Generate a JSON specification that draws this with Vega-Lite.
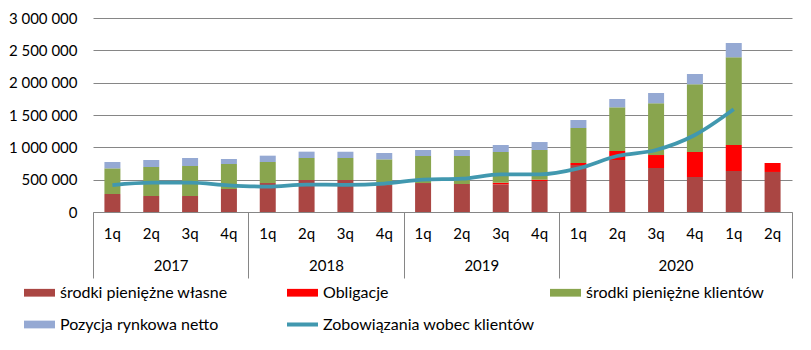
{
  "$schema": "https://vega.github.io/schema/vega-lite/v6.json",
  "width": 699,
  "height": 194,
  "autosize": "none",
  "padding": {"left": 93, "top": 18, "right": 19, "bottom": 138},
  "background": "white",
  "config": {
    "locale": {"number": {"decimal": ",", "thousands": " ", "grouping": [3], "currency": ["", " zł"]}},
    "font": "Lato",
    "view": {"stroke": null},
    "axis": {"labelFont": "Lato", "labelFontSize": 15, "labelColor": "#000000", "title": null}
  },
  "data": {
    "values": [
      {"period": "2017 1q", "series": "środki pieniężne własne", "value": 278000},
      {"period": "2017 1q", "series": "środki pieniężne klientów", "value": 397000},
      {"period": "2017 1q", "series": "Pozycja rynkowa netto", "value": 98000},
      {"period": "2017 1q", "series": "Zobowiązania wobec klientów", "value": 417000},
      {"period": "2017 2q", "series": "środki pieniężne własne", "value": 247000},
      {"period": "2017 2q", "series": "środki pieniężne klientów", "value": 449000},
      {"period": "2017 2q", "series": "Pozycja rynkowa netto", "value": 108000},
      {"period": "2017 2q", "series": "Zobowiązania wobec klientów", "value": 453000},
      {"period": "2017 3q", "series": "środki pieniężne własne", "value": 247000},
      {"period": "2017 3q", "series": "środki pieniężne klientów", "value": 464000},
      {"period": "2017 3q", "series": "Pozycja rynkowa netto", "value": 124000},
      {"period": "2017 3q", "series": "Zobowiązania wobec klientów", "value": 455000},
      {"period": "2017 4q", "series": "środki pieniężne własne", "value": 356000},
      {"period": "2017 4q", "series": "środki pieniężne klientów", "value": 386000},
      {"period": "2017 4q", "series": "Pozycja rynkowa netto", "value": 78000},
      {"period": "2017 4q", "series": "Zobowiązania wobec klientów", "value": 412000},
      {"period": "2018 1q", "series": "środki pieniężne własne", "value": 448000},
      {"period": "2018 1q", "series": "środki pieniężne klientów", "value": 325000},
      {"period": "2018 1q", "series": "Pozycja rynkowa netto", "value": 98000},
      {"period": "2018 1q", "series": "Zobowiązania wobec klientów", "value": 392000},
      {"period": "2018 2q", "series": "środki pieniężne własne", "value": 495000},
      {"period": "2018 2q", "series": "środki pieniężne klientów", "value": 340000},
      {"period": "2018 2q", "series": "Pozycja rynkowa netto", "value": 98000},
      {"period": "2018 2q", "series": "Zobowiązania wobec klientów", "value": 425000},
      {"period": "2018 3q", "series": "środki pieniężne własne", "value": 495000},
      {"period": "2018 3q", "series": "środki pieniężne klientów", "value": 340000},
      {"period": "2018 3q", "series": "Pozycja rynkowa netto", "value": 98000},
      {"period": "2018 3q", "series": "Zobowiązania wobec klientów", "value": 420000},
      {"period": "2018 4q", "series": "środki pieniężne własne", "value": 417000},
      {"period": "2018 4q", "series": "środki pieniężne klientów", "value": 397000},
      {"period": "2018 4q", "series": "Pozycja rynkowa netto", "value": 98000},
      {"period": "2018 4q", "series": "Zobowiązania wobec klientów", "value": 440000},
      {"period": "2019 1q", "series": "środki pieniężne własne", "value": 448000},
      {"period": "2019 1q", "series": "środki pieniężne klientów", "value": 418000},
      {"period": "2019 1q", "series": "Pozycja rynkowa netto", "value": 93000},
      {"period": "2019 1q", "series": "Zobowiązania wobec klientów", "value": 500000},
      {"period": "2019 2q", "series": "środki pieniężne własne", "value": 433000},
      {"period": "2019 2q", "series": "środki pieniężne klientów", "value": 433000},
      {"period": "2019 2q", "series": "Pozycja rynkowa netto", "value": 93000},
      {"period": "2019 2q", "series": "Zobowiązania wobec klientów", "value": 515000},
      {"period": "2019 3q", "series": "środki pieniężne własne", "value": 428000},
      {"period": "2019 3q", "series": "Obligacje", "value": 25000},
      {"period": "2019 3q", "series": "środki pieniężne klientów", "value": 475000},
      {"period": "2019 3q", "series": "Pozycja rynkowa netto", "value": 108000},
      {"period": "2019 3q", "series": "Zobowiązania wobec klientów", "value": 583000},
      {"period": "2019 4q", "series": "środki pieniężne własne", "value": 479000},
      {"period": "2019 4q", "series": "Obligacje", "value": 21000},
      {"period": "2019 4q", "series": "środki pieniężne klientów", "value": 459000},
      {"period": "2019 4q", "series": "Pozycja rynkowa netto", "value": 123000},
      {"period": "2019 4q", "series": "Zobowiązania wobec klientów", "value": 583000},
      {"period": "2020 1q", "series": "środki pieniężne własne", "value": 727000},
      {"period": "2020 1q", "series": "Obligacje", "value": 31000},
      {"period": "2020 1q", "series": "środki pieniężne klientów", "value": 541000},
      {"period": "2020 1q", "series": "Pozycja rynkowa netto", "value": 124000},
      {"period": "2020 1q", "series": "Zobowiązania wobec klientów", "value": 675000},
      {"period": "2020 2q", "series": "środki pieniężne własne", "value": 804000},
      {"period": "2020 2q", "series": "Obligacje", "value": 139000},
      {"period": "2020 2q", "series": "środki pieniężne klientów", "value": 676000},
      {"period": "2020 2q", "series": "Pozycja rynkowa netto", "value": 128000},
      {"period": "2020 2q", "series": "Zobowiązania wobec klientów", "value": 866000},
      {"period": "2020 3q", "series": "środki pieniężne własne", "value": 680000},
      {"period": "2020 3q", "series": "Obligacje", "value": 201000},
      {"period": "2020 3q", "series": "środki pieniężne klientów", "value": 800000},
      {"period": "2020 3q", "series": "Pozycja rynkowa netto", "value": 159000},
      {"period": "2020 3q", "series": "Zobowiązania wobec klientów", "value": 959000},
      {"period": "2020 4q", "series": "środki pieniężne własne", "value": 541000},
      {"period": "2020 4q", "series": "Obligacje", "value": 387000},
      {"period": "2020 4q", "series": "środki pieniężne klientów", "value": 1047000},
      {"period": "2020 4q", "series": "Pozycja rynkowa netto", "value": 159000},
      {"period": "2020 4q", "series": "Zobowiązania wobec klientów", "value": 1191000},
      {"period": "2021 1q", "series": "środki pieniężne własne", "value": 634000},
      {"period": "2021 1q", "series": "Obligacje", "value": 402000},
      {"period": "2021 1q", "series": "środki pieniężne klientów", "value": 1356000},
      {"period": "2021 1q", "series": "Pozycja rynkowa netto", "value": 221000},
      {"period": "2021 1q", "series": "Zobowiązania wobec klientów", "value": 1588000},
      {"period": "2021 2q", "series": "środki pieniężne własne", "value": 619000},
      {"period": "2021 2q", "series": "Obligacje", "value": 139000}
    ]
  },
  "layer": [
    {
      "layer": [
        {
          "transform": [
            {"filter": "datum.series !== 'Zobowiązania wobec klientów'"},
            {"calculate": "indexof(['środki pieniężne własne','Obligacje','środki pieniężne klientów','Pozycja rynkowa netto'], datum.series)", "as": "stackOrder"}
          ],
          "mark": {"type": "bar"},
          "encoding": {
            "x": {
              "field": "period", "type": "nominal", "sort": null,
              "scale": {"paddingInner": 0.588, "paddingOuter": 0.294},
              "axis": {"orient": "bottom", "labelExpr": "split(datum.value, ' ')[1]", "ticks": false, "domain": true, "domainColor": "#868686", "labelPadding": 14, "labelAngle": 0, "grid": false}
            },
            "y": {
              "field": "value", "type": "quantitative", "stack": "zero",
              "scale": {"domain": [0, 3000000], "nice": false},
              "axis": {"values": [0, 500000, 1000000, 1500000, 2000000, 2500000, 3000000], "format": ",d", "grid": true, "gridColor": "#868686", "domain": false, "ticks": false, "labelPadding": 16, "labelOverlap": false, "labelFlush": false}
            },
            "color": {
              "field": "series", "type": "nominal",
              "scale": {
                "domain": ["środki pieniężne własne", "Obligacje", "środki pieniężne klientów", "Pozycja rynkowa netto", "Zobowiązania wobec klientów"],
                "range": ["#AA4643", "#FF0000", "#89A54E", "#95A9D3", "#4198AF"]
              },
              "legend": {
                "orient": "none", "legendX": -69, "legendY": 259, "direction": "horizontal", "columns": 3, "title": null,
                "symbolType": "M-1,-0.25H1V0.25H-1Z", "symbolSize": 961, "symbolStrokeWidth": 0,
                "labelFont": "Lato", "labelFontSize": 16, "labelColor": "#000000", "labelOffset": 5, "labelLimit": 400,
                "columnPadding": 15, "rowPadding": 8, "gridAlign": "all", "padding": 0,
                "encode": {
                  "symbols": {
                    "update": {
                      "shape": {"signal": "datum.value === 'Zobowiązania wobec klientów' ? 'M-1,-0.13H1V0.13H-1Z' : 'M-1,-0.25H1V0.25H-1Z'"},
                      "fill": {"scale": "color", "field": "value"},
                      "stroke": {"value": "transparent"},
                      "opacity": {"value": 1}
                    }
                  }
                }
              }
            },
            "order": {"field": "stackOrder", "type": "quantitative"}
          }
        },
        {
          "transform": [{"filter": "datum.series === 'Zobowiązania wobec klientów'"}],
          "mark": {"type": "line", "strokeWidth": 3.75, "interpolate": "monotone"},
          "encoding": {
            "x": {"field": "period", "type": "nominal", "sort": null},
            "y": {
              "field": "value", "type": "quantitative",
              "scale": {"domain": [0, 3000000], "nice": false},
              "axis": {"values": [0, 500000, 1000000, 1500000, 2000000, 2500000, 3000000], "format": ",d", "grid": true, "gridColor": "#868686", "domain": false, "ticks": false, "labelPadding": 16, "labelOverlap": false, "labelFlush": false}
            },
            "color": {"field": "series", "type": "nominal"}
          }
        }
      ]
    },
    {
      "mark": {"type": "point", "opacity": 0},
      "encoding": {
        "x": {
          "field": "period", "type": "nominal", "sort": null,
          "scale": {"paddingInner": 0.588, "paddingOuter": 0.294},
          "axis": {"orient": "bottom", "values": ["2017 2q", "2018 2q", "2019 2q", "2020 3q"], "labelExpr": "slice(datum.value, 0, 4)", "labelOffset": 19.4, "ticks": false, "domain": false, "labelPadding": 46, "labelAngle": 0, "grid": false}
        }
      }
    },
    {
      "mark": {"type": "rule", "opacity": 0},
      "encoding": {
        "x": {
          "datum": 0, "type": "quantitative",
          "scale": {"domain": [0, 18], "nice": false, "zero": false},
          "axis": {"orient": "bottom", "values": [0, 4, 8, 12, 18], "tickSize": 66, "tickColor": "#868686", "tickWidth": 1, "labels": false, "domain": false, "grid": false}
        }
      }
    }
  ],
  "resolve": {"scale": {"x": "independent"}, "axis": {"x": "independent"}}
}
